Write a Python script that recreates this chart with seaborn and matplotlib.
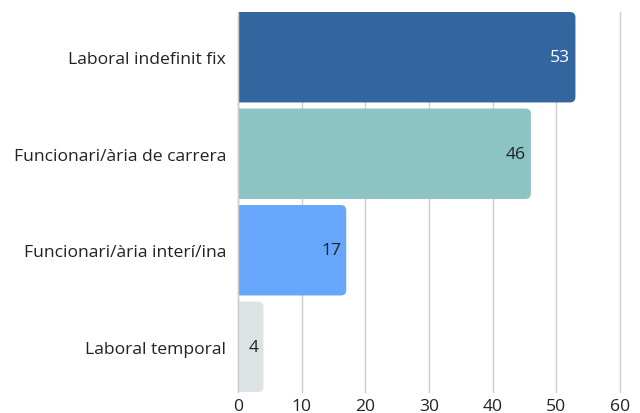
import matplotlib
matplotlib.use("Agg")
import matplotlib.pyplot as plt
import seaborn as sns
import pandas as pd
from matplotlib.patches import FancyBboxPatch

categories = ["Laboral indefinit fix", "Funcionari/ària de carrera",
              "Funcionari/ària interí/ina", "Laboral temporal"]
values = [53, 46, 17, 4]
colors = ["#33669f", "#8cc3c5", "#66a6fb", "#dde3e4"]
label_colors = ["white", "#222222", "#222222", "#222222"]
xticks = [0, 10, 20, 30, 40, 50, 60]

sns.set_theme(style="white")
plt.rcParams['font.family'] = ['Open Sans', 'DejaVu Sans']

df = pd.DataFrame({"cat": categories, "val": values})

top_px, bot_px, left_px, right_px = 13, 393, 238, 620
fig = plt.figure(figsize=(6.4, 4.14), dpi=100)
ax = fig.add_axes([left_px/640, 1 - bot_px/414, (right_px - left_px)/640, (bot_px - top_px)/414])

sns.barplot(data=df, x="val", y="cat", hue="cat", palette=colors, orient="h",
            width=0.937, ax=ax, legend=False, saturation=1)

ax.set_xlim(0, 60)
ax.set_ylim(3.4685, -0.4685)

# replace bars with rounded ones
px_x = (right_px - left_px) / 60.0
px_y = (bot_px - top_px) / 3.937
r_px = 5.5
for p in list(ax.patches):
    x0 = p.get_x(); y0 = p.get_y(); w = p.get_width(); h = p.get_height()
    fc = p.get_facecolor()
    p.remove()
    fb = FancyBboxPatch((x0 - 2, y0), w + 2, h,
                        boxstyle=f"round,pad=0,rounding_size={r_px/px_x}",
                        mutation_aspect=px_x/px_y,
                        facecolor=fc, edgecolor="none", zorder=2)
    ax.add_patch(fb)

for i, (v, lc) in enumerate(zip(values, label_colors)):
    ax.annotate(str(v), xy=(v, i), xytext=(-3.6, 0), textcoords="offset points",
                ha="right", va="center", fontsize=12.6, color=lc, zorder=3)

ax.set_xticks(xticks)
ax.xaxis.grid(True, color="#cccccc", linewidth=1)
for gl in ax.get_xgridlines():
    gl.set_clip_on(False)
ax.set_axisbelow(True)
for s in ["top", "right", "bottom"]:
    ax.spines[s].set_visible(False)
ax.spines["left"].set_color("#cccccc")
ax.spines["left"].set_linewidth(1)
ax.set_xlabel("")
ax.set_ylabel("")
ax.tick_params(axis="x", length=0, pad=4.5, labelsize=12.6, labelcolor="#222222")
ax.tick_params(axis="y", length=0, pad=8.6, labelsize=12.6, labelcolor="#222222")

fig.savefig("out.png", dpi=100)
